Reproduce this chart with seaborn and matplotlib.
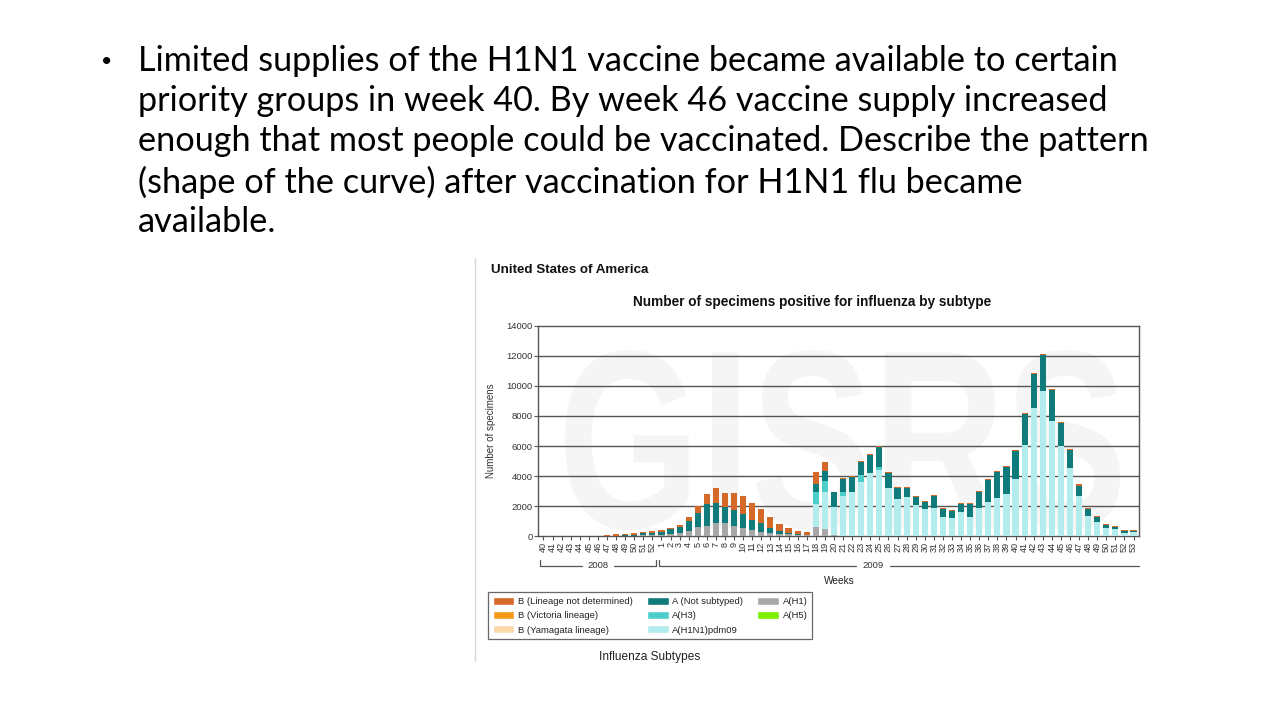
import matplotlib
matplotlib.use("Agg")
import matplotlib.pyplot as plt
import seaborn as sns
import numpy as np
import pandas as pd
from matplotlib.textpath import TextPath
from matplotlib.patches import PathPatch, Patch
from matplotlib.font_manager import FontProperties
from matplotlib.transforms import Affine2D
from matplotlib.lines import Line2D

# ---------------- data ----------------
weeks_2008 = list(range(40, 53))
weeks_2009 = list(range(1, 54))
week_labels = [str(w) for w in weeks_2008] + [str(w) for w in weeks_2009]
week_keys = [f"2008-{w}" for w in weeks_2008] + [f"2009-{w}" for w in weeks_2009]

# A(H1)
a_h1 = [0, 0, 0, 0, 0, 0, 0, 0, 0, 0, 0, 40, 50,
        70, 110, 180, 330, 580, 700, 850, 850, 690, 530, 400, 290, 220, 150, 110, 70, 40,
        620, 470, 60, 0, 0, 0, 0, 0, 0, 0, 0, 0, 0, 0, 0, 0, 0, 0, 0, 0, 0, 0, 0,
        0, 0, 0, 0, 0, 0, 0, 0, 0, 0, 0, 0, 0]
# A(H1N1)pdm09
a_pdm = [0, 0, 0, 0, 0, 0, 0, 0, 0, 0, 0, 0, 0,
         0, 0, 0, 0, 0, 0, 0, 0, 0, 0, 0, 0, 0, 0, 0, 0, 0,
         1510, 2490, 1850, 2700, 2950, 3620, 4180, 4400, 3180, 2440, 2580, 2070, 1800, 1840, 1290,
         1220, 1580, 1290, 1870, 2240, 2560, 2800, 3820, 6040, 8560, 9670, 7690, 6000, 4560, 2670,
         1360, 960, 560, 440, 220, 270]
# A(H3)
a_h3 = [0, 0, 0, 0, 0, 0, 0, 0, 0, 0, 0, 0, 0,
        0, 0, 0, 0, 0, 0, 0, 0, 0, 0, 0, 0, 0, 0, 0, 0, 0,
        830, 730, 0, 250, 0, 450, 0, 220, 0, 0, 0, 0, 0, 0, 0,
        0, 0, 0, 0, 0, 0, 0, 0, 0, 0, 0, 0, 0, 0, 0,
        0, 0, 0, 0, 0, 0]
# A (Not subtyped)
a_ns = [0, 0, 0, 0, 0, 0, 0, 0, 30, 40, 80, 140, 150,
        200, 330, 400, 690, 980, 1450, 1370, 1060, 1040, 910, 670, 550, 310, 180, 110, 60, 50,
        510, 670, 1000, 850, 960, 890, 1220, 1290, 1040, 740, 600, 550, 490, 830, 490,
        450, 530, 840, 1060, 1490, 1710, 1780, 1850, 2070, 2260, 2400, 2040, 1510, 1170, 690,
        420, 280, 190, 140, 140, 90]
# B (Lineage not determined)
b_nd = [10, 10, 15, 20, 20, 25, 30, 40, 80, 90, 100, 110, 130,
        110, 90, 170, 220, 440, 650, 980, 990, 1170, 1210, 1110, 940, 710, 470, 340, 230, 180,
        800, 550, 50, 70, 60, 60, 70, 90, 70, 60, 60, 70, 70, 60, 60,
        60, 70, 70, 70, 70, 60, 60, 60, 70, 70, 90, 70, 70, 70, 80,
        60, 70, 50, 60, 40, 40]
# B (Victoria lineage), B (Yamagata lineage), A(H5): none visible
b_vic = [0] * 66
b_yam = [0] * 66
a_h5 = [0] * 66

yticks = [0, 2000, 4000, 6000, 8000, 10000, 12000, 14000]

c_bnd = "#D5692A"
c_bvic = "#F59B1B"
c_byam = "#FAD8AA"
c_ans = "#0F7B7A"
c_ah3 = "#4CCFCB"
c_pdm = "#B3ECEC"
c_ah1 = "#A8A8A8"
c_ah5 = "#7CF000"

# ---------------- figure ----------------
sns.set_theme(style="white")
plt.rcParams['font.family'] = ['Liberation Sans', 'DejaVu Sans']

W, H = 1280, 720
fig = plt.figure(figsize=(12.8, 7.2), dpi=100)
fig.patch.set_facecolor("white")

def fx(x):
    return x / W

def fy(y):
    return 1 - y / H

# slide bullet text
lines = [
    "Limited supplies of the H1N1 vaccine became available to certain",
    "priority groups in week 40. By week 46 vaccine supply increased",
    "enough that most people could be vaccinated. Describe the pattern",
    "(shape of the curve) after vaccination for H1N1 flu became",
    "available.",
]
line_y = [61, 101, 141, 182, 222]
for t, yy in zip(lines, line_y):
    fig.text(fx(138), fy(yy), t, fontsize=24.7, family=['Lato', 'DejaVu Sans'],
             va='center', ha='left', color='black')
fig.text(fx(101), fy(62), "•", fontsize=14, family=['Lato', 'DejaVu Sans'],
         va='center', ha='left', color='black')

# image border line
fig.add_artist(Line2D([fx(474.5), fx(474.5)], [fy(258), fy(661)], color="#d8d8d8", lw=1))

fig.text(fx(491), fy(270), "United States of America", fontsize=9.6, weight='bold',
         va='center', ha='left', color='#111111')
fig.text(fx(812), fy(302), "Number of specimens positive for influenza by subtype",
         fontsize=9.8, weight='bold', va='center', ha='center', color='#111111')

# axes
ax = fig.add_axes([fx(538), fy(536), fx(1139) - fx(538), (536 - 326) / H])
ax.set_facecolor("none")

# watermark
tp = TextPath((0, 0), "GISRS", size=1, prop=FontProperties(family='Liberation Sans', weight='bold'))
ext = tp.get_extents()
x0, x1 = (565 - 538) / 601, (1120 - 538) / 601
y0, y1 = (536 - 530) / 210, (536 - 350) / 210
tr = Affine2D().translate(-ext.x0, -ext.y0).scale((x1 - x0) / ext.width, (y1 - y0) / ext.height).translate(x0, y0)
ax.add_patch(PathPatch(tr.transform_path(tp), facecolor="#f5f5f5", edgecolor="none",
                       transform=ax.transAxes, zorder=0))

df = pd.DataFrame({
    "week": week_keys,
    "ah1": a_h1, "pdm": a_pdm, "ah3": a_h3, "ans": a_ns, "bnd": b_nd,
    "bvic": b_vic, "byam": b_yam, "ah5": a_h5,
})
layers = [("ah1", c_ah1), ("pdm", c_pdm), ("ah3", c_ah3), ("ans", c_ans), ("bnd", c_bnd)]
cum = np.zeros(len(df))
cums = []
for key, col in layers:
    cum = cum + df[key].to_numpy()
    cums.append((cum.copy(), col))
for vals, col in reversed(cums):
    sns.barplot(x=df["week"], y=vals, order=week_keys, color=col, width=0.68,
                saturation=1, ax=ax, zorder=3, edgecolor="none", linewidth=0)

ax.set_ylim(0, 14000)
ax.set_xlim(-0.6, len(week_keys) - 0.4)
ax.set_yticks(yticks)
ax.set_yticklabels([str(v) for v in yticks], fontsize=6.8, color="#333333")
ax.set_xticks(range(len(week_keys)))
ax.set_xticklabels(week_labels, rotation=90, fontsize=6.6, color="#333333")
for yv in yticks[1:-1]:
    ax.axhline(yv, color="#555555", lw=1.0, zorder=1)
for s in ax.spines.values():
    s.set_color("#555555")
    s.set_linewidth(1.0)
ax.tick_params(axis='both', which='both', length=3, width=0.8, color="#555555", pad=1,
               left=True, bottom=True)
ax.set_xlabel("")
ax.set_ylabel("Number of specimens", fontsize=7, color="#333333", labelpad=7)

# year brackets
def fl(xs, ys, **kw):
    fig.add_artist(Line2D([fx(v) for v in xs], [fy(v) for v in ys], color="#555555", lw=0.9, **kw))

fl([540, 540, 582], [560, 566, 566])
fl([614, 656, 656], [566, 566, 560])
fl([659, 659, 856], [560, 566, 566])
fl([890, 1139], [566, 566])
fig.text(fx(598), fy(566), "2008", fontsize=6.8, ha='center', va='center', color='#333333')
fig.text(fx(873), fy(566), "2009", fontsize=6.8, ha='center', va='center', color='#333333')
fig.text(fx(839), fy(581), "Weeks", fontsize=7.3, ha='center', va='center', color='#222222')

# legend
handles = [
    Patch(facecolor=c_bnd, label="B (Lineage not determined)"),
    Patch(facecolor=c_bvic, label="B (Victoria lineage)"),
    Patch(facecolor=c_byam, label="B (Yamagata lineage)"),
    Patch(facecolor=c_ans, label="A (Not subtyped)"),
    Patch(facecolor=c_ah3, label="A(H3)"),
    Patch(facecolor=c_pdm, label="A(H1N1)pdm09"),
    Patch(facecolor=c_ah1, label="A(H1)"),
    Patch(facecolor=c_ah5, label="A(H5)"),
]
leg = fig.legend(handles=handles, ncol=3, loc='upper left',
                 bbox_to_anchor=(fx(488), fy(592)), fontsize=6.8, frameon=True,
                 fancybox=False, edgecolor="#444444", handlelength=2.3, handleheight=0.9,
                 handletextpad=0.4, columnspacing=1.45, labelspacing=0.55,
                 borderpad=0.5, borderaxespad=0)
leg.get_frame().set_linewidth(0.9)
for t in leg.get_texts():
    t.set_color("#222222")

fig.text(fx(650), fy(657), "Influenza Subtypes", fontsize=8.6, ha='center', va='center', color='#222222')

fig.savefig("out.png", dpi=100, facecolor="white")
